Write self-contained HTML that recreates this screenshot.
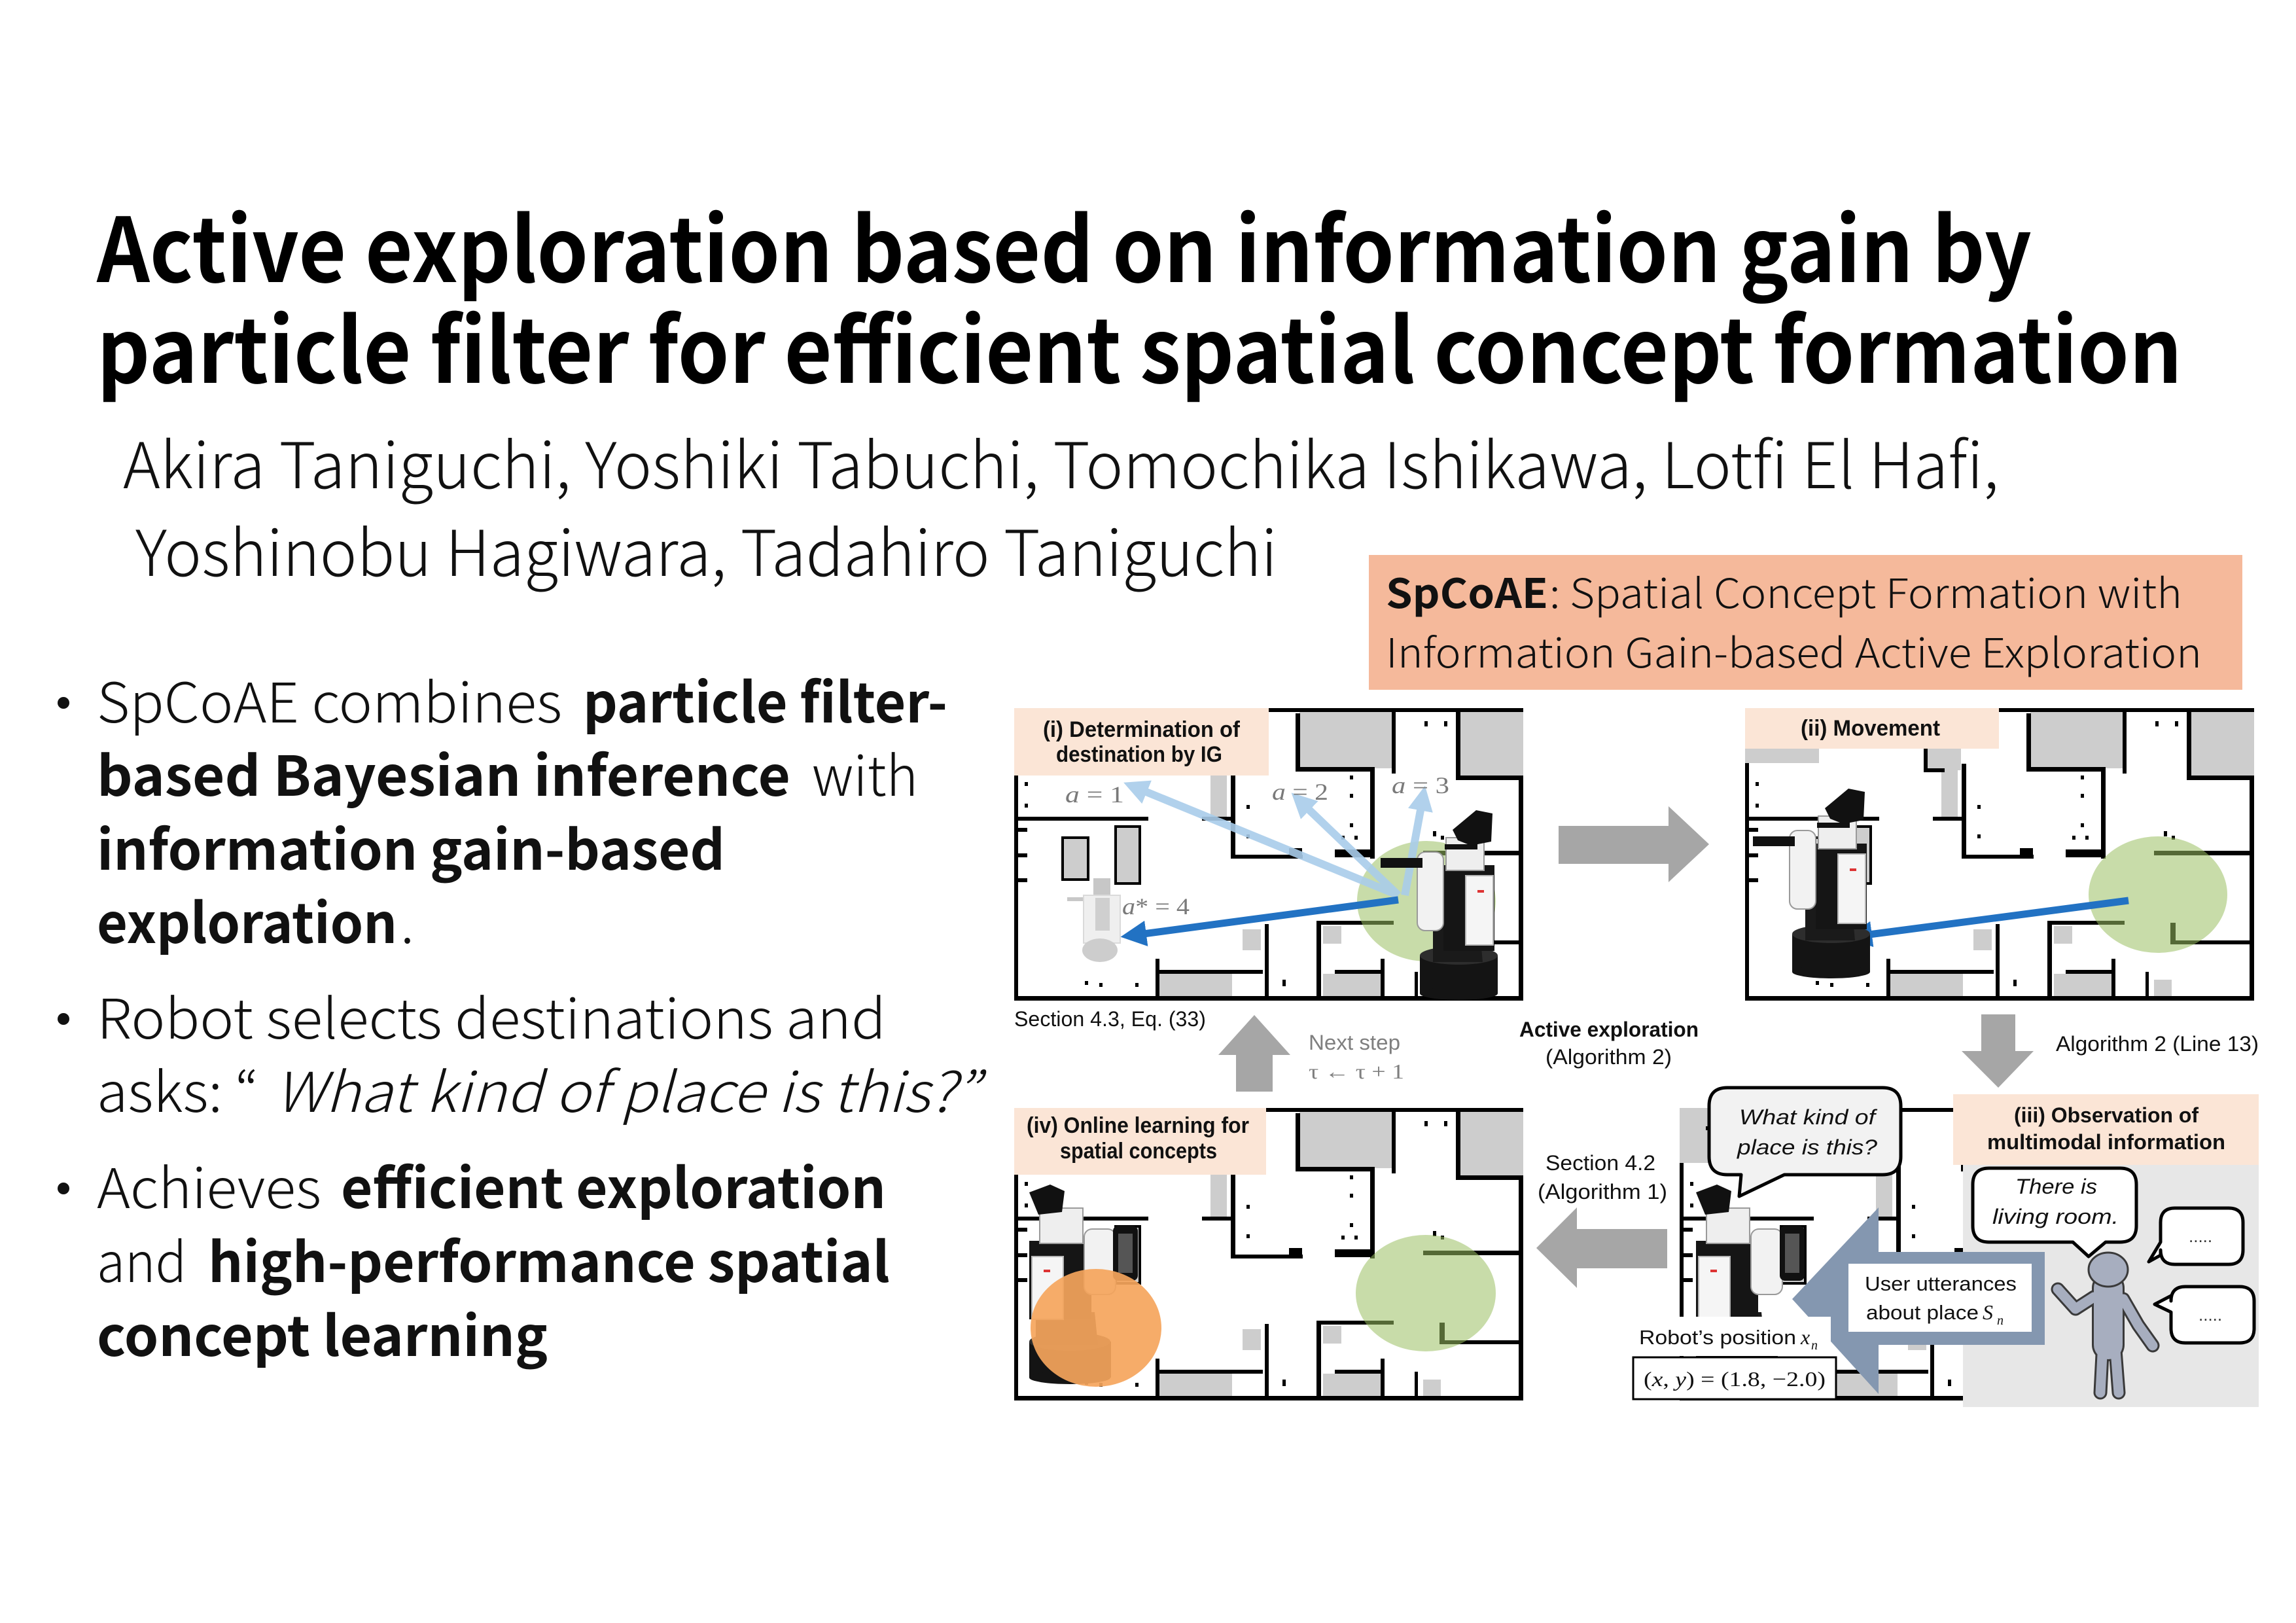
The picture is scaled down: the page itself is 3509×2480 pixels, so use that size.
<!DOCTYPE html>
<html><head><meta charset="utf-8"><title>SpCoAE</title>
<style>
html,body{margin:0;padding:0;background:#fff;}
svg{display:block;}
.n{font-family:"Noto Sans CJK JP","Liberation Sans",sans-serif;}
.d{font-family:"Liberation Sans",sans-serif;}
.s{font-family:"Liberation Serif",serif;}
</style></head>
<body>
<svg width="3509" height="2480" viewBox="0 0 3509 2480" xmlns="http://www.w3.org/2000/svg">
<defs>
<g id="map">
 <rect x="0" y="0" width="778" height="447" fill="#fff"/>
 <g fill="#CDCDCD">
  <rect x="0" y="0" width="113" height="84"/>
  <rect x="275" y="55" width="55" height="40"/>
  <rect x="300" y="95" width="25" height="72"/>
  <rect x="436" y="0" width="144" height="92"/>
  <rect x="682" y="0" width="96" height="104"/>
  <rect x="76" y="200" width="35" height="60"/>
  <rect x="157" y="183" width="33" height="83"/>
  <rect x="222" y="406" width="111" height="34"/>
  <rect x="349" y="338" width="28" height="32"/>
  <rect x="472" y="406" width="91" height="34"/>
  <rect x="625" y="415" width="27" height="25"/>
  <rect x="472" y="333" width="28" height="27"/>
 </g>
 <g fill="#000">
  <rect x="330" y="0" width="448" height="6"/>
  <rect x="0" y="84" width="6" height="363"/>
  <rect x="771" y="104" width="7" height="343"/>
  <rect x="0" y="440" width="778" height="7"/>
  <rect x="0" y="166" width="205" height="6"/>
  <rect x="273" y="55" width="6" height="42"/>
  <rect x="273" y="92" width="32" height="6"/>
  <rect x="331" y="85" width="7" height="145"/>
  <rect x="287" y="166" width="44" height="6"/>
  <rect x="331" y="224" width="110" height="6"/>
  <rect x="420" y="214" width="20" height="16"/>
  <rect x="490" y="216" width="55" height="12"/>
  <rect x="544" y="95" width="7" height="135"/>
  <rect x="430" y="8" width="7" height="88"/>
  <rect x="430" y="90" width="121" height="7"/>
  <rect x="577" y="0" width="6" height="100"/>
  <rect x="675" y="0" width="7" height="110"/>
  <rect x="675" y="103" width="103" height="7"/>
  <rect x="625" y="218" width="146" height="7"/>
  <rect x="462" y="325" width="118" height="6"/>
  <rect x="462" y="325" width="7" height="122"/>
  <rect x="383" y="330" width="6" height="117"/>
  <rect x="650" y="328" width="8" height="33"/>
  <rect x="650" y="355" width="121" height="6"/>
  <rect x="216" y="383" width="6" height="64"/>
  <rect x="216" y="400" width="164" height="6"/>
  <rect x="490" y="400" width="76" height="6"/>
  <rect x="560" y="383" width="6" height="64"/>
  <rect x="612" y="403" width="5" height="44"/>
  <rect x="0" y="183" width="20" height="6"/>
  <rect x="0" y="222" width="20" height="6"/>
  <rect x="0" y="260" width="20" height="6"/>
  <rect x="16" y="113" width="5" height="6"/><rect x="16" y="146" width="5" height="6"/>
  <rect x="355" y="148" width="5" height="6"/><rect x="355" y="193" width="5" height="6"/>
  <rect x="513" y="103" width="5" height="6"/><rect x="513" y="131" width="5" height="6"/>
  <rect x="513" y="176" width="5" height="6"/><rect x="500" y="195" width="5" height="6"/>
  <rect x="520" y="195" width="5" height="6"/><rect x="627" y="20" width="5" height="8"/>
  <rect x="657" y="20" width="5" height="8"/><rect x="640" y="188" width="5" height="8"/>
  <rect x="652" y="195" width="5" height="6"/><rect x="108" y="417" width="5" height="6"/>
  <rect x="130" y="420" width="5" height="6"/><rect x="185" y="420" width="5" height="6"/>
  <rect x="410" y="415" width="5" height="10"/><rect x="40" y="28" width="5" height="6"/>
 </g>
 <rect x="74" y="198" width="39" height="64" fill="none" stroke="#000" stroke-width="4"/>
 <rect x="155" y="181" width="37" height="87" fill="none" stroke="#000" stroke-width="4"/>
</g>
<g id="robotA">
 <rect x="2" y="222" width="119" height="58" fill="#141414"/>
 <ellipse cx="61.5" cy="280" rx="59.5" ry="10" fill="#141414"/>
 <ellipse cx="61.5" cy="222" rx="59.5" ry="14" fill="#2d2d2d"/>
 <path d="M22 168 L92 168 L98 232 L22 232 Z" fill="#1a1a1a"/>
 <rect x="38" y="84" width="78" height="131" fill="#151515"/>
 <rect x="72" y="100" width="42" height="106" fill="#f5f5f5" stroke="#b5b5b5" stroke-width="2"/>
 <rect x="90" y="122" width="10" height="4" fill="#d33"/>
 <rect x="-2" y="64" width="40" height="120" rx="12" fill="#f2f2f2" stroke="#9a9a9a" stroke-width="2"/>
 <rect x="-58" y="73" width="64" height="15" fill="#111"/>
 <rect x="42" y="42" width="58" height="50" fill="#eeeeee" stroke="#9a9a9a" stroke-width="2"/>
 <rect x="40" y="52" width="50" height="8" fill="#111"/>
 <path d="M52 30 L88 0 L113 5 L111 48 L80 54 L60 46 Z" fill="#111"/>
</g>
<g id="robotB">
 <rect x="0" y="240" width="125" height="55" fill="#141414"/>
 <ellipse cx="62" cy="295" rx="62" ry="10" fill="#141414"/>
 <ellipse cx="62" cy="240" rx="62" ry="14" fill="#2d2d2d"/>
 <path d="M10 195 L100 195 L105 245 L10 245 Z" fill="#1a1a1a"/>
 <rect x="0" y="86" width="95" height="120" fill="#151515"/>
 <rect x="4" y="110" width="48" height="96" fill="#f5f5f5" stroke="#b5b5b5" stroke-width="2"/>
 <rect x="22" y="130" width="10" height="4" fill="#d33"/>
 <rect x="84" y="68" width="48" height="100" rx="12" fill="#f2f2f2" stroke="#9a9a9a" stroke-width="2"/>
 <rect x="128" y="63" width="38" height="84" rx="8" fill="#111"/>
 <rect x="136" y="75" width="22" height="60" fill="#555"/>
 <rect x="16" y="36" width="66" height="54" fill="#eee" stroke="#9a9a9a" stroke-width="2"/>
 <path d="M0 12 L32 0 L54 10 L50 42 L14 46 Z" fill="#111"/>
</g>
<marker id="mdb" viewBox="0 0 10 10" refX="3" refY="5" markerWidth="3.6" markerHeight="3.6" orient="auto"><path d="M0,0 L10,5 L0,10 z" fill="#2272C3"/></marker>
<marker id="mlb" viewBox="0 0 10 10" refX="3" refY="5" markerWidth="3.2" markerHeight="3.2" orient="auto"><path d="M0,0 L10,5 L0,10 z" fill="#A9CDEA"/></marker>
<clipPath id="c3"><rect x="2567" y="1686" width="435" height="455"/></clipPath>
</defs>

<!-- Title -->
<g class="n" font-weight="700" fill="#000" font-size="136">
 <text x="148" y="431" textLength="2957" lengthAdjust="spacingAndGlyphs">Active exploration based on information gain by</text>
 <text x="148" y="585" textLength="3187" lengthAdjust="spacingAndGlyphs">particle filter for efficient spatial concept formation</text>
</g>
<g class="n" font-weight="300" fill="#111" font-size="97">
 <text x="188" y="746" textLength="2867" lengthAdjust="spacingAndGlyphs">Akira Taniguchi, Yoshiki Tabuchi, Tomochika Ishikawa, Lotfi El Hafi,</text>
 <text x="207" y="880" textLength="1745" lengthAdjust="spacingAndGlyphs">Yoshinobu Hagiwara, Tadahiro Taniguchi</text>
</g>

<!-- Orange box -->
<rect x="2092" y="848" width="1335" height="206" fill="#F5B99B"/>
<g class="n" font-size="62" fill="#111">
 <text x="2118" y="929" font-weight="700" textLength="248" lengthAdjust="spacingAndGlyphs">SpCoAE</text>
 <text x="2368" y="929" font-weight="300" textLength="967" lengthAdjust="spacingAndGlyphs">: Spatial Concept Formation with</text>
 <text x="2118" y="1020" font-weight="300" textLength="1247" lengthAdjust="spacingAndGlyphs">Information Gain-based Active Exploration</text>
</g>

<!-- Bullets -->
<g fill="#111">
 <circle cx="97" cy="1074" r="9"/>
 <circle cx="97" cy="1557" r="9"/>
 <circle cx="97" cy="1816" r="9"/>
</g>
<g class="n" font-size="84" fill="#111">
 <text x="148" y="1104" font-weight="300" textLength="711" lengthAdjust="spacingAndGlyphs">SpCoAE combines</text>
 <text x="891" y="1104" font-weight="700" textLength="557" lengthAdjust="spacingAndGlyphs">particle filter-</text>
 <text x="148" y="1216" font-weight="700" textLength="1060" lengthAdjust="spacingAndGlyphs">based Bayesian inference</text>
 <text x="1241" y="1216" font-weight="300" textLength="162" lengthAdjust="spacingAndGlyphs">with</text>
 <text x="148" y="1329" font-weight="700" textLength="960" lengthAdjust="spacingAndGlyphs">information gain-based</text>
 <text x="148" y="1441" font-weight="700" textLength="459" lengthAdjust="spacingAndGlyphs">exploration</text>
 <text x="612" y="1441" font-weight="300">.</text>
 <text x="148" y="1587" font-weight="300" textLength="1206" lengthAdjust="spacingAndGlyphs">Robot selects destinations and</text>
 <text x="148" y="1699" font-weight="300" textLength="247" lengthAdjust="spacingAndGlyphs">asks: “</text>
 <text x="420" y="1699" font-weight="300" font-style="italic" textLength="1077" lengthAdjust="spacingAndGlyphs">What kind of place is this?”</text>
 <text x="148" y="1846" font-weight="300" textLength="343" lengthAdjust="spacingAndGlyphs">Achieves</text>
 <text x="521" y="1846" font-weight="700" textLength="833" lengthAdjust="spacingAndGlyphs">efficient exploration</text>
 <text x="148" y="1959" font-weight="300" textLength="137" lengthAdjust="spacingAndGlyphs">and</text>
 <text x="318" y="1959" font-weight="700" textLength="1042" lengthAdjust="spacingAndGlyphs">high-performance spatial</text>
 <text x="148" y="2072" font-weight="700" textLength="689" lengthAdjust="spacingAndGlyphs">concept learning</text>
</g>

<!-- Panel (i) -->
<g transform="translate(1550,1082)">
 <use href="#map"/>
 <ellipse cx="630" cy="295" rx="106" ry="92" fill="#9BC063" opacity="0.55"/>
 <g opacity="0.55">
  <rect x="121" y="260" width="26" height="26" fill="#9a9a9a"/>
  <rect x="81" y="289" width="30" height="6" fill="#9a9a9a"/>
  <rect x="106" y="286" width="56" height="73" fill="#e2e2e2" stroke="#bdbdbd" stroke-width="2"/>
  <rect x="124" y="290" width="22" height="50" fill="#a8a8a8"/>
  <ellipse cx="131" cy="370" rx="27" ry="18" fill="#a5a5a5"/>
 </g>
 <g stroke="#A9CDEA" stroke-width="12" fill="none" opacity="0.9" marker-end="url(#mlb)">
  <line x1="587" y1="286" x2="192" y2="124"/>
  <line x1="587" y1="286" x2="443" y2="148"/>
  <line x1="597" y1="286" x2="623" y2="145"/>
 </g>
 <line x1="587" y1="293" x2="190" y2="346" stroke="#2272C3" stroke-width="11" marker-end="url(#mdb)"/>
 <use href="#robotA" x="618" y="156"/>
 <rect x="0" y="0" width="389" height="103" fill="#FBE5D6"/>
</g>
<g class="d" font-weight="700" font-size="34" fill="#111">
 <text x="1594" y="1126" textLength="301" lengthAdjust="spacingAndGlyphs">(i) Determination of</text>
 <text x="1614" y="1164" textLength="254" lengthAdjust="spacingAndGlyphs">destination by IG</text>
</g>
<g class="s" font-size="36" fill="#7a7a7a">
 <text x="1628" y="1226" textLength="90" lengthAdjust="spacingAndGlyphs"><tspan font-style="italic">a</tspan> = 1</text>
 <text x="1944" y="1222" textLength="86" lengthAdjust="spacingAndGlyphs"><tspan font-style="italic">a</tspan> = 2</text>
 <text x="2127" y="1212" textLength="88" lengthAdjust="spacingAndGlyphs"><tspan font-style="italic">a</tspan> = 3</text>
 <text x="1715" y="1397" textLength="103" lengthAdjust="spacingAndGlyphs"><tspan font-style="italic">a</tspan>* = 4</text>
</g>

<!-- Right gray arrow -->
<polygon points="2382,1262 2550,1262 2550,1232 2612,1290 2550,1348 2550,1320 2382,1320" fill="#A6A6A6"/>

<!-- Panel (ii) -->
<g transform="translate(2667,1082)">
 <use href="#map"/>
 <ellipse cx="631" cy="285" rx="106" ry="89" fill="#9BC063" opacity="0.55"/>
 <line x1="586" y1="294" x2="182" y2="347" stroke="#2272C3" stroke-width="11" marker-end="url(#mdb)"/>
 <use href="#robotA" x="70" y="123"/>
 <rect x="0" y="0" width="388" height="62" fill="#FBE5D6"/>
</g>
<text class="d" x="2752" y="1124" font-weight="700" font-size="34" fill="#111" textLength="213" lengthAdjust="spacingAndGlyphs">(ii) Movement</text>

<!-- Middle row labels and arrows -->
<g class="d" font-size="32" fill="#111">
 <text x="1550" y="1568" textLength="293" lengthAdjust="spacingAndGlyphs">Section 4.3, Eq. (33)</text>
 <text x="2322" y="1584" font-weight="700" textLength="274" lengthAdjust="spacingAndGlyphs">Active exploration</text>
 <text x="2362" y="1626" textLength="193" lengthAdjust="spacingAndGlyphs">(Algorithm 2)</text>
 <text x="3142" y="1606" textLength="310" lengthAdjust="spacingAndGlyphs">Algorithm 2 (Line 13)</text>
 <text x="2362" y="1788" textLength="168" lengthAdjust="spacingAndGlyphs">Section 4.2</text>
 <text x="2350" y="1832" textLength="198" lengthAdjust="spacingAndGlyphs">(Algorithm 1)</text>
 <text x="2000" y="1604" fill="#7f7f7f" textLength="140" lengthAdjust="spacingAndGlyphs">Next step</text>
</g>
<text class="s" x="2000" y="1648" font-size="32" fill="#7f7f7f" textLength="146" lengthAdjust="spacingAndGlyphs">τ ← τ + 1</text>
<polygon points="1917,1551 1972,1612 1945,1612 1945,1668 1889,1668 1889,1612 1862,1612" fill="#A6A6A6"/>
<polygon points="3028,1550 3080,1550 3080,1606 3108,1606 3054,1662 2998,1606 3028,1606" fill="#A6A6A6"/>
<polygon points="2348,1907 2410,1845 2410,1878 2548,1878 2548,1938 2410,1938 2410,1968" fill="#A6A6A6"/>

<!-- Panel (iv) -->
<g transform="translate(1550,1693)">
 <use href="#map"/>
 <ellipse cx="629" cy="283" rx="107" ry="89" fill="#9BC063" opacity="0.55"/>
 <use href="#robotB" x="23" y="117"/>
 <ellipse cx="125" cy="336" rx="100" ry="90" fill="#F5A55C" opacity="0.92"/>
 <rect x="0" y="0" width="385" height="102" fill="#FBE5D6"/>
</g>
<g class="d" font-weight="700" font-size="34" fill="#111">
 <text x="1569" y="1731" textLength="340" lengthAdjust="spacingAndGlyphs">(iv) Online learning for</text>
 <text x="1620" y="1770" textLength="240" lengthAdjust="spacingAndGlyphs">spatial concepts</text>
</g>

<!-- Panel (iii) -->
<g clip-path="url(#c3)"><use href="#map" x="2567" y="1693"/></g>
<use href="#robotB" x="2592" y="1810"/>
<rect x="3000" y="1780" width="452" height="370" fill="#E7E7E7"/>
<rect x="2985" y="1672" width="467" height="108" fill="#FBE5D6"/>
<g class="d" font-weight="700" font-size="32" fill="#111">
 <text x="3078" y="1715" textLength="282" lengthAdjust="spacingAndGlyphs">(iii) Observation of</text>
 <text x="3037" y="1756" textLength="364" lengthAdjust="spacingAndGlyphs">multimodal information</text>
</g>
<path d="M2640,1662 H2877 Q2905,1662 2905,1690 V1767 Q2905,1795 2877,1795 H2727 L2658,1828 L2661,1795 H2640 Q2612,1795 2612,1767 V1690 Q2612,1662 2640,1662 Z" fill="#F2F2F2" stroke="#000" stroke-width="5" stroke-linejoin="round"/>
<g class="d" font-style="italic" font-size="32" fill="#111">
 <text x="2658" y="1718" textLength="208" lengthAdjust="spacingAndGlyphs">What kind of</text>
 <text x="2655" y="1764" textLength="214" lengthAdjust="spacingAndGlyphs">place is this?</text>
</g>
<polygon points="3125,1913 2871,1913 2871,1845 2739,1985 2871,2130 2871,2055 3125,2055" fill="#8497B0"/>
<rect x="2825" y="1931" width="280" height="104" fill="#fff"/>
<g class="d" font-size="31" fill="#111">
 <text x="2850" y="1972" textLength="232" lengthAdjust="spacingAndGlyphs">User utterances</text>
 <text x="2852" y="2016" textLength="172" lengthAdjust="spacingAndGlyphs">about place</text>
</g>
<text class="s" x="3030" y="2016" font-size="32" font-style="italic" fill="#111">S</text>
<text class="s" x="3052" y="2024" font-size="20" font-style="italic" fill="#111">n</text>

<!-- person -->
<g stroke-linecap="round" stroke-linejoin="round" fill="none">
 <path d="M3200,1982 L3172,2000 L3145,1970 M3245,1985 L3268,2025 L3290,2056 M3214,2050 L3210,2128 M3232,2050 L3238,2128" stroke="#3a3a3a" stroke-width="21"/>
 <path d="M3222,1968 L3222,2055" stroke="#3a3a3a" stroke-width="50"/>
 <path d="M3200,1982 L3172,2000 L3145,1970 M3245,1985 L3268,2025 L3290,2056 M3214,2050 L3210,2128 M3232,2050 L3238,2128" stroke="#A7AEBF" stroke-width="15"/>
 <path d="M3222,1968 L3222,2055" stroke="#A7AEBF" stroke-width="44"/>
</g>
<ellipse cx="3222" cy="1940" rx="30" ry="26" fill="#A7AEBF" stroke="#3a3a3a" stroke-width="3"/>
<!-- bubbles -->
<path d="M3040,1785 H3240 Q3265,1785 3265,1810 V1873 Q3265,1898 3240,1898 H3218 L3192,1920 L3168,1898 H3040 Q3015,1898 3015,1873 V1810 Q3015,1785 3040,1785 Z" fill="#fff" stroke="#000" stroke-width="5" stroke-linejoin="round"/>
<g class="d" font-style="italic" font-size="32" fill="#111">
 <text x="3080" y="1824" textLength="125" lengthAdjust="spacingAndGlyphs">There is</text>
 <text x="3045" y="1870" textLength="193" lengthAdjust="spacingAndGlyphs">living room.</text>
</g>
<path d="M3324,1846 H3406 Q3428,1846 3428,1868 V1910 Q3428,1932 3406,1932 H3324 Q3302,1932 3302,1910 V1918 L3284,1928 L3302,1898 V1868 Q3302,1846 3324,1846 Z" fill="#fff" stroke="#000" stroke-width="5" stroke-linejoin="round"/>
<path d="M3340,1966 H3423 Q3445,1966 3445,1988 V2030 Q3445,2052 3423,2052 H3340 Q3318,2052 3318,2030 V2005 L3293,1993 L3318,1980 V1988 Q3318,1966 3340,1966 Z" fill="#fff" stroke="#000" stroke-width="5" stroke-linejoin="round"/>
<text class="d" x="3345" y="1898" font-size="26" fill="#333">.....</text>
<text class="d" x="3360" y="2018" font-size="26" fill="#333">.....</text>

<!-- Robot position -->
<rect x="2496" y="2012" width="302" height="60" fill="#fff"/>
<text class="d" x="2505" y="2054" font-size="31" fill="#111" textLength="240" lengthAdjust="spacingAndGlyphs">Robot’s position</text>
<text class="s" x="2752" y="2054" font-size="32" font-style="italic" fill="#111">x</text>
<text class="s" x="2768" y="2062" font-size="20" font-style="italic" fill="#111">n</text>
<rect x="2496" y="2074" width="310" height="64" fill="#fff" stroke="#000" stroke-width="3"/>
<text class="s" x="2512" y="2118" font-size="32" fill="#111" textLength="278" lengthAdjust="spacingAndGlyphs">(<tspan font-style="italic">x</tspan>, <tspan font-style="italic">y</tspan>) = (1.8, −2.0)</text>
</svg>
</body></html>
